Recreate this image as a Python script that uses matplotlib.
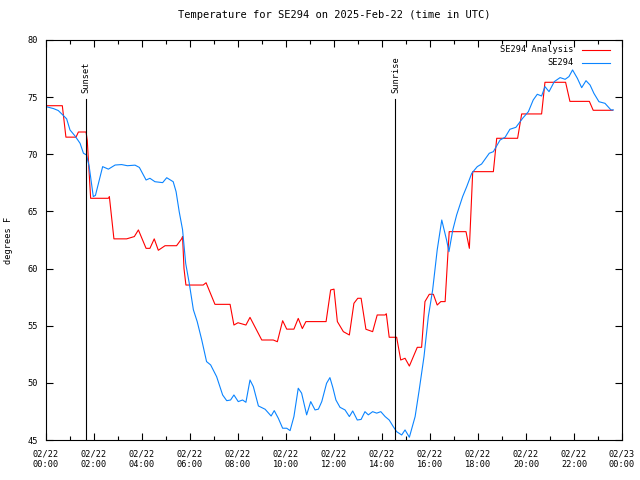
import matplotlib
matplotlib.use('Agg')
import matplotlib.pyplot as plt
from matplotlib.ticker import MultipleLocator

plt.rcParams['font.family'] = 'DejaVu Sans Mono'
plt.rcParams['font.size'] = 6.2

# SE294 Analysis (red) - hours since 02/22 00:00 UTC, degrees F
analysis_t = [0.0, 0.68, 0.83, 1.25, 1.35, 1.67, 1.72, 1.86, 2.6, 2.64, 2.83, 3.36, 3.68,
              3.85, 4.17, 4.33, 4.51, 4.68, 4.96, 5.44, 5.65, 5.69, 5.75, 5.83, 6.55, 6.67,
              7.04, 7.67, 7.83, 8.0, 8.33, 8.5, 8.99, 9.47, 9.64, 9.86, 10.03, 10.33, 10.51,
              10.68, 10.83, 11.67, 11.86, 12.0, 12.14, 12.39, 12.64, 12.83, 12.99, 13.13,
              13.33, 13.61, 13.8, 14.13, 14.18, 14.3, 14.61, 14.78, 14.96, 15.14, 15.47,
              15.65, 15.79, 15.97, 16.14, 16.3, 16.45, 16.63, 16.8, 17.5, 17.64, 17.78,
              18.64, 18.78, 19.65, 19.82, 20.65, 20.79, 21.65, 21.83, 22.64, 22.8, 23.61]
analysis_v = [74.25, 74.25, 71.5, 71.5, 71.95, 71.95, 71.2, 66.15, 66.15, 66.3, 62.6, 62.6, 62.8,
              63.38, 61.77, 61.77, 62.6, 61.6, 62.0, 62.0, 62.6, 62.8, 60.0, 58.56, 58.56, 58.76,
              56.87, 56.87, 55.06, 55.26, 55.06, 55.73, 53.75, 53.75, 53.6, 55.44, 54.7, 54.7, 55.64,
              54.75, 55.36, 55.36, 58.13, 58.2, 55.36, 54.48, 54.19, 56.96, 57.4, 57.4,
              54.69, 54.48, 55.94, 55.94, 56.05, 53.99, 53.99, 52.0, 52.15, 51.47, 53.11,
              53.11, 57.11, 57.75, 57.75, 56.81, 57.11, 57.11, 63.23, 63.23, 61.77, 68.48,
              68.48, 71.4, 71.4, 73.53, 73.53, 76.3, 76.3, 74.63, 74.63, 73.85, 73.85]

# SE294 observations (blue)
obs_t = [0.0, 0.31, 0.51, 0.72, 0.86, 1.0, 1.21, 1.42, 1.56, 1.69, 1.8, 1.97, 2.06, 2.36, 2.6,
         2.88, 3.15, 3.39, 3.71, 3.89, 4.17, 4.33, 4.54, 4.86, 5.03, 5.3, 5.42, 5.55, 5.69,
         5.82, 5.97, 6.14, 6.3, 6.49, 6.69, 6.86, 7.11, 7.36, 7.53, 7.69, 7.83, 8.01, 8.19,
         8.33, 8.5, 8.64, 8.85, 9.13, 9.38, 9.51, 9.68, 9.86, 10.03, 10.17, 10.33, 10.51,
         10.65, 10.86, 11.03, 11.21, 11.35, 11.49, 11.69, 11.83, 11.95, 12.08, 12.25, 12.46,
         12.64, 12.78, 12.97, 13.13, 13.29, 13.43, 13.61, 13.78, 13.95, 14.13, 14.3, 14.47,
         14.61, 14.82, 14.96, 15.14, 15.38, 15.55, 15.75, 15.93, 16.11, 16.3, 16.49, 16.69,
         16.79, 16.95, 17.11, 17.36, 17.53, 17.74, 17.97, 18.15, 18.47, 18.64, 18.92, 19.13,
         19.33, 19.58, 19.86, 20.1, 20.3, 20.47, 20.65, 20.79, 20.96, 21.18, 21.42, 21.63,
         21.79, 21.94, 22.14, 22.32, 22.5, 22.67, 22.83, 23.04, 23.29, 23.54, 23.64]
obs_v = [74.17, 74.0, 73.83, 73.4, 73.1, 72.13, 71.6, 70.96, 70.09, 69.94, 68.92, 66.3, 66.4,
         68.92, 68.7, 69.06, 69.1, 69.0, 69.05, 68.85, 67.75, 67.9, 67.6, 67.52, 67.95, 67.6,
         66.73, 64.98, 63.4, 60.46, 58.7, 56.4, 55.36, 53.75, 51.86, 51.57, 50.54, 48.94,
         48.44, 48.5, 48.94, 48.36, 48.5, 48.3, 50.25, 49.67, 47.98, 47.69, 47.1, 47.57, 46.9,
         46.03, 46.03, 45.82, 47.05, 49.53, 49.1, 47.2, 48.36, 47.63, 47.7, 48.36, 49.96,
         50.46, 49.6, 48.5, 47.86, 47.63, 47.05, 47.54, 46.75, 46.8, 47.48, 47.2, 47.48,
         47.35, 47.48, 47.05, 46.75, 46.17, 45.73, 45.44, 45.88, 45.24, 47.05, 49.38, 52.3,
         55.79, 58.13, 61.63, 64.25, 62.5, 61.48, 63.38, 64.69, 66.3, 67.17, 68.34, 68.92,
         69.15, 70.09, 70.23, 71.25, 71.49, 72.19, 72.36, 73.15, 73.73, 74.75, 75.25, 75.1,
         75.92, 75.48, 76.36, 76.71, 76.56, 76.8, 77.38, 76.65, 75.83, 76.44, 76.06, 75.33,
         74.6, 74.46, 73.88, 73.88]

sunset_t = 1.67
sunrise_t = 14.56
sun_top = 74.8

tick_hours = list(range(0, 25, 2))
tick_labels = ['02/22\n%02d:00' % h for h in range(0, 24, 2)] + ['02/23\n00:00']

fig = plt.figure(figsize=(6.4, 4.8), dpi=100)
ax = fig.add_axes([46 / 640, 40 / 480, 576 / 640, 400 / 480])

ax.plot(analysis_t, analysis_v, color='#ff0000', lw=0.8)
ax.plot(obs_t, obs_v, color='#0a84ff', lw=0.8)

# sunset / sunrise markers
for t, name in [(sunset_t, 'Sunset'), (sunrise_t, 'Sunrise')]:
    ax.plot([t, t], [45, sun_top], color='black', lw=0.8)
    ax.text(t, sun_top + 0.6, name, rotation=90, ha='center', va='bottom')

ax.set_xlim(0, 24)
ax.set_ylim(45, 80)
ax.set_xticks(tick_hours)
ax.set_xticklabels(tick_labels)
ax.xaxis.set_minor_locator(MultipleLocator(1))
ax.yaxis.set_major_locator(MultipleLocator(5))
ax.tick_params(which='both', direction='in', top=True, right=True)
ax.tick_params(which='major', length=5, width=0.8, pad=6)
ax.tick_params(which='minor', length=3, width=0.8)
ax.tick_params(axis='x', pad=7)
for s in ax.spines.values():
    s.set_linewidth(0.8)

ax.set_ylabel('degrees F')
ax.yaxis.set_label_coords(-33 / 576, 0.5)
ax.set_title('Temperature for SE294 on 2025-Feb-22 (time in UTC)', pad=16)

# gnuplot-style legend: right aligned text, sample line at right
for i, (lab, col) in enumerate([('SE294 Analysis', '#ff0000'), ('SE294', '#0a84ff')]):
    y = 1 - (10 + 13 * i) / 400
    ax.text(528 / 576, y, lab, transform=ax.transAxes, ha='right', va='center')
    ax.plot([536 / 576, 564 / 576], [y, y], color=col, lw=0.8, transform=ax.transAxes)

fig.savefig('out.png', dpi=100)
